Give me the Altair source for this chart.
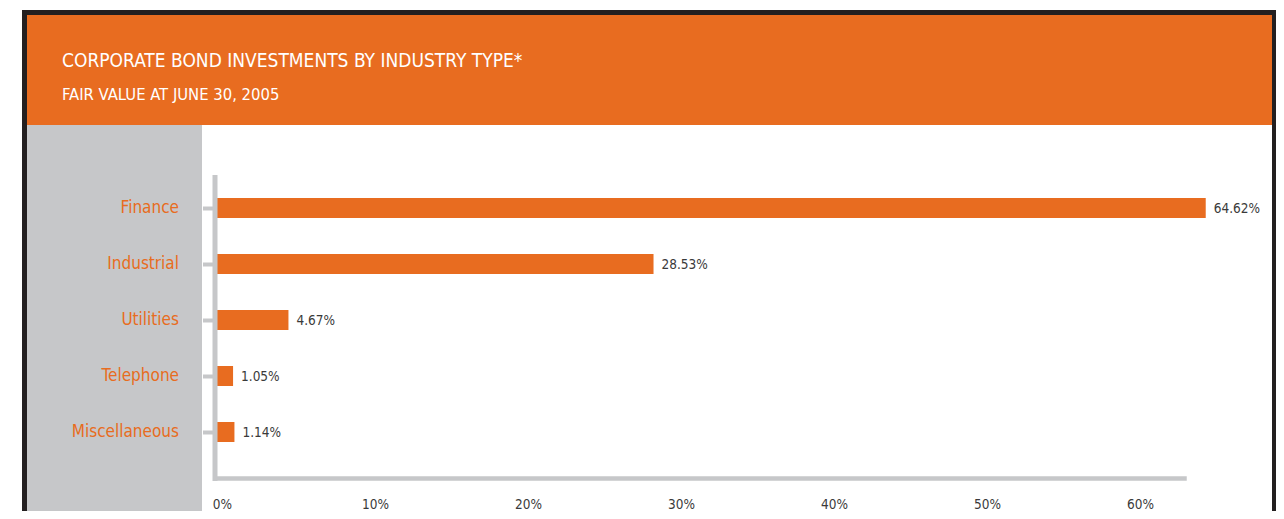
import altair as alt
import pandas as pd

# ---- data ----
categories = ["Finance", "Industrial", "Utilities", "Telephone", "Miscellaneous"]
values = [64.62, 28.53, 4.67, 1.05, 1.14]
x_ticks = [0, 10, 20, 30, 40, 50, 60]
title_text = "CORPORATE BOND INVESTMENTS BY INDUSTRY TYPE*"
subtitle_text = "FAIR VALUE AT JUNE 30, 2005"

# ---- styles ----
ORANGE = "#E86C20"
GREY = "#C6C7C9"
FRAME = "#231F20"
TEXT = "#3A3A3A"
FONT = "'Liberation Sans Narrow', 'DejaVu Sans Condensed', 'Roboto Condensed', 'Arial Narrow', sans-serif"

W, H = 967, 301

df = pd.DataFrame({"category": categories, "value": values})
one = pd.DataFrame({"k": [0]})

x_scale = alt.Scale(domain=[0, 63.2], nice=False, zero=True)
y_scale = alt.Scale(paddingInner=0, paddingOuter=0.1875, align=0.143)


def deco(x, x2, y, y2, color):
    return alt.Chart(one).mark_rect(color=color).encode(
        x=alt.value(x), x2=alt.value(x2), y=alt.value(y), y2=alt.value(y2)
    )


frame_left = deco(-195, -190, -167, 345, FRAME)
frame_top = deco(-195, 1059, -167, -162, FRAME)
frame_right = deco(1055, 1059, -167, 345, FRAME)
header = deco(-190, 1055, -162, -52, ORANGE)
panel = deco(-190, -15, -52, 345, GREY)

title = alt.Chart(one).mark_text(
    align="left", baseline="alphabetic", font=FONT, fontSize=19,
    color="white", text=title_text
).encode(x=alt.value(-155), y=alt.value(-110))

subtitle = alt.Chart(one).mark_text(
    align="left", baseline="alphabetic", font=FONT, fontSize=16.5,
    color="white", text=subtitle_text
).encode(x=alt.value(-155), y=alt.value(-77))

x_axis = alt.Axis(
    title=None, values=x_ticks, labelExpr="datum.value + '%'",
    domainColor=GREY, domainWidth=4.5, domainCap="square",
    ticks=False, labelPadding=19, labelColor=TEXT, labelFont=FONT,
    labelFontSize=13.5, labelOffset=5, labelFlush=False, grid=False, zindex=1,
)
y_axis = alt.Axis(
    title=None, domainColor=GREY, domainWidth=5, domainCap="square", offset=2.5,
    ticks=True, tickColor=GREY, tickWidth=4, tickSize=12,
    labelColor=ORANGE, labelFont=FONT, labelFontSize=17, labelPadding=24,
    labelBaseline="alphabetic", labelOffset=5, bandPosition=0.5, grid=False, zindex=1,
)

bars = alt.Chart(df).mark_bar(color=ORANGE, size=20).encode(
    x=alt.X("value:Q", scale=x_scale, axis=x_axis),
    y=alt.Y("category:N", sort=categories, scale=y_scale, axis=y_axis),
)

labels = alt.Chart(df).transform_calculate(
    label="format(datum.value, '.2f') + '%'"
).mark_text(
    align="left", baseline="middle", dx=8, dy=1, font=FONT, fontSize=13.5, color=TEXT
).encode(
    x=alt.X("value:Q", scale=x_scale),
    y=alt.Y("category:N", sort=categories, scale=y_scale),
    text="label:N",
)

chart = alt.layer(
    frame_left, frame_top, frame_right, header, panel, title, subtitle, bars, labels
).properties(
    width=W, height=H,
    padding={"left": 209, "top": 169, "right": 92, "bottom": 33},
    autosize=alt.AutoSizeParams(type="none"),
    background="white",
).configure_view(stroke=None)

chart.save("out.html", embed_options={"renderer": "svg", "actions": False})
